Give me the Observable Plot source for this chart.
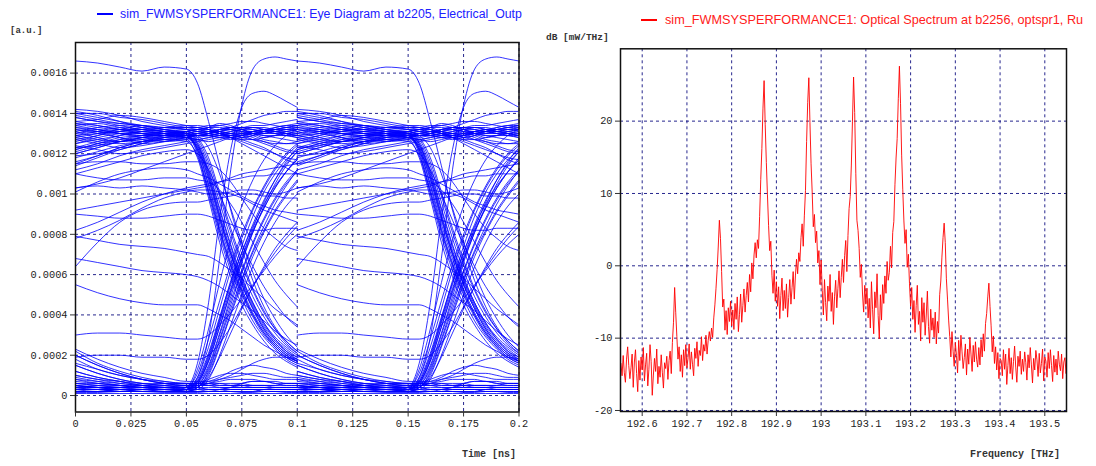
<!DOCTYPE html>
<html>
<head>
<meta charset="utf-8">
<script src="https://cdn.jsdelivr.net/npm/d3@7"></script>
<script src="https://cdn.jsdelivr.net/npm/@observablehq/plot@0.6"></script>
<style>
  html, body { margin: 0; padding: 0; background: #fff; }
  #wrap { position: relative; width: 1096px; height: 466px; overflow: hidden; background: #fff; }
  .ttl { position: absolute; font-family: "Liberation Sans", Arial, sans-serif; line-height: 14px; white-space: nowrap; }
  .unit { position: absolute; font-family: "Liberation Mono", "Courier New", monospace; font-weight: bold; color: #333; white-space: nowrap; }
  .sw { position: absolute; height: 2px; width: 16px; }
</style>
</head>
<body>
<div id="wrap"></div>
<script>
// ---------------- Eye diagram data (values in units of 1e-4 a.u.) ----------------
const eyeTitle = "sim_FWMSYSPERFORMANCE1: Eye Diagram at b2205, Electrical_Outp";
const eyeYLabel = "[a.u.]";
const eyeXLabel = "Time [ns]";
const eyeUnit = 1e-4;
const eyeT = [0, 0.01, 0.02, 0.03, 0.04, 0.05, 0.055, 0.06, 0.065, 0.07, 0.075, 0.08, 0.085, 0.09, 0.095, 0.1];
const eyeXTicks = [0, 0.025, 0.05, 0.075, 0.1, 0.125, 0.15, 0.175, 0.2];
const eyeYTicks = [0, 0.0002, 0.0004, 0.0006, 0.0008, 0.001, 0.0012, 0.0014, 0.0016];
const eyeWindows = [0, 0.1];

// "1" -> "1"
const eyeHigh = [
  [13.0,13.2,13.1,13.3,13.2,13.1,13.0,13.0,13.1,13.2,13.1,13.0,13.0,13.1,13.2,13.1],
  [12.6,12.9,13.2,13.0,12.9,13.0,13.1,13.0,12.9,13.0,13.2,13.3,13.2,13.1,13.0,12.9],
  [13.8,13.6,13.5,13.4,13.2,13.0,12.9,12.9,13.0,13.1,13.2,13.2,13.1,13.2,13.3,13.4],
  [12.2,12.5,12.8,12.9,13.1,13.2,13.2,13.1,13.0,12.9,12.8,12.9,13.1,13.2,13.3,13.3],
  [13.4,13.5,13.3,13.1,13.0,12.8,12.7,12.8,12.9,13.0,12.9,12.7,12.5,12.3,12.1,12.0],
  [12.0,12.3,12.6,12.7,12.6,12.7,12.8,12.9,13.0,13.0,13.1,13.1,13.0,13.0,12.9,12.8],
  [14.0,14.0,13.8,13.7,13.5,13.3,13.2,13.1,13.2,13.3,13.3,13.4,13.4,13.5,13.6,13.7],
  [11.6,11.9,12.3,12.6,12.8,12.9,12.9,13.0,13.2,13.3,13.3,13.2,13.1,13.0,13.0,13.0],
  [12.9,12.7,12.6,12.8,13.0,13.1,13.2,13.3,13.3,13.2,13.0,12.8,12.6,12.4,12.2,12.1],
  [13.2,13.0,12.8,12.5,12.6,12.8,12.9,12.9,12.8,12.7,12.8,12.9,13.0,13.1,13.0,12.9],
  [12.4,12.2,12.0,12.1,12.3,12.5,12.6,12.7,12.8,12.9,13.0,13.1,13.2,13.3,13.4,13.4],
  [13.6,13.7,13.9,13.8,13.6,13.4,13.3,13.2,13.0,12.8,12.6,12.4,12.2,12.0,11.8,11.7],
  [11.2,11.5,11.9,12.2,12.4,12.6,12.7,12.8,12.9,12.9,13.0,13.0,12.9,12.8,12.7,12.6],
  [12.8,13.0,13.2,13.4,13.3,13.2,13.1,13.3,13.5,13.4,13.2,13.0,12.8,12.9,13.1,13.2],
  [14.2,14.1,13.9,13.6,13.4,13.2,13.1,13.0,12.9,12.8,12.9,13.0,13.1,13.0,12.9,12.9],
  [12.3,12.6,12.9,13.1,13.0,12.8,12.7,12.6,12.7,12.8,12.7,12.5,12.3,12.0,11.7,11.5],
  [11.8,12.1,12.4,12.6,12.9,13.1,13.2,13.3,13.4,13.5,13.6,13.6,13.5,13.4,13.3,13.2],
  [13.3,13.1,12.8,12.6,12.7,12.9,13.0,13.1,13.1,13.0,12.8,12.7,12.6,12.5,12.5,12.6],
  [10.3,10.5,10.8,11.2,11.6,12.0,12.2,12.4,12.6,12.8,12.9,13.0,13.1,13.1,13.2,13.2],
  [13.5,13.3,13.2,13.2,13.3,13.4,13.4,13.3,13.1,12.8,12.5,12.2,11.9,11.6,11.3,11.0],
  [12.7,12.5,12.3,12.4,12.6,12.8,12.9,13.0,13.1,13.3,13.5,13.7,13.9,14.0,14.1,14.1],
  [13.9,13.7,13.5,13.4,13.3,13.3,13.3,13.4,13.4,13.3,13.2,13.1,13.1,13.2,13.3,13.4],
  [12.9,13.1,13.3,13.2,13.0,12.9,12.9,13.0,13.2,13.3,13.2,13.0,12.9,12.9,13.0,13.1],
  [12.1,12.4,12.7,12.9,13.0,13.0,13.0,12.9,12.8,12.8,12.9,13.1,13.2,13.2,13.1,13.0],
  [13.5,13.4,13.2,13.0,12.9,12.9,13.0,13.1,13.2,13.2,13.1,12.9,12.7,12.6,12.5,12.5],
  [11.9,12.0,12.2,12.5,12.8,13.0,13.1,13.1,13.0,12.9,12.9,13.0,13.1,13.3,13.4,13.5],
  [13.1,12.8,12.6,12.7,12.9,13.1,13.2,13.2,13.1,13.0,13.0,13.1,13.2,13.1,13.0,12.9],
  [12.5,12.8,13.0,13.1,13.2,13.3,13.3,13.2,13.0,12.8,12.7,12.7,12.8,12.9,12.9,12.8],
  [14.1,13.9,13.6,13.3,13.1,13.0,12.9,12.9,13.0,13.1,13.2,13.3,13.3,13.2,13.2,13.3],
  [11.4,11.8,12.2,12.5,12.7,12.8,12.9,13.0,13.1,13.2,13.3,13.3,13.2,13.1,13.1,13.2]
];
// "1" -> "0"
const eyeFall = [
  [13.0,13.1,13.0,12.9,12.9,12.8,12.2,10.5,8.5,6.8,5.3,4.1,3.2,2.5,2.0,1.7],
  [12.5,12.7,12.9,13.0,13.0,12.9,12.5,11.2,9.3,7.5,5.9,4.6,3.6,2.8,2.2,1.8],
  [13.6,13.4,13.2,13.1,13.0,12.9,12.0,10.0,7.9,6.2,4.8,3.7,2.9,2.3,1.8,1.5],
  [12.0,12.3,12.6,12.8,12.9,13.0,12.6,11.4,9.6,7.8,6.2,4.9,3.9,3.1,2.5,2.1],
  [13.3,13.2,13.0,12.8,12.7,12.6,11.9,10.1,8.1,6.4,5.0,3.9,3.0,2.4,1.9,1.6],
  [11.5,11.9,12.3,12.6,12.8,12.9,12.4,10.9,8.9,7.1,5.6,4.4,3.4,2.7,2.2,1.9],
  [13.8,13.6,13.4,13.2,13.1,13.0,12.7,11.6,9.9,8.1,6.5,5.2,4.1,3.3,2.7,2.2],
  [12.8,12.6,12.5,12.6,12.7,12.7,11.8,9.8,7.6,5.9,4.5,3.5,2.7,2.1,1.7,1.4],
  [13.1,13.3,13.4,13.3,13.1,12.9,12.3,10.7,8.7,7.0,5.5,4.3,3.3,2.6,2.1,1.8],
  [12.3,12.4,12.6,12.8,13.0,13.1,12.8,11.8,10.1,8.3,6.7,5.3,4.2,3.3,2.6,2.1],
  [14.0,13.8,13.6,13.4,13.2,13.0,12.1,10.2,8.2,6.5,5.1,4.0,3.1,2.5,2.0,1.7],
  [12.9,13.0,13.1,13.0,12.9,12.8,12.3,10.8,8.8,7.0,5.5,4.3,3.3,2.6,2.1,1.7],
  [11.0,11.3,11.6,11.9,12.1,12.2,12.0,11.2,10.0,8.7,7.5,6.4,5.4,4.6,3.9,3.4],
  [16.6,16.5,16.3,16.1,16.3,16.2,15.5,13.6,11.4,9.2,7.3,5.7,4.4,3.4,2.7,2.2],
  [13.2,13.1,13.0,13.0,13.1,13.1,12.9,12.3,11.0,9.3,7.6,6.1,4.8,3.8,3.0,2.4],
  [12.7,12.9,13.1,13.2,13.1,13.0,12.5,11.0,9.0,7.2,5.7,4.5,3.5,2.8,2.3,1.9],
  [13.4,13.2,13.0,12.9,12.9,12.9,12.2,10.4,8.3,6.6,5.2,4.0,3.1,2.4,1.9,1.6],
  [12.2,12.5,12.7,12.8,12.8,12.8,12.4,11.1,9.2,7.4,5.8,4.6,3.6,2.9,2.4,2.0]
];
// "0" -> "1"
const eyeRise = [
  [0.5,0.4,0.3,0.3,0.2,0.3,0.5,1.4,3.0,4.7,6.2,7.6,8.8,9.8,10.6,11.2],
  [0.8,0.6,0.5,0.4,0.3,0.3,0.8,2.1,3.9,5.6,7.1,8.4,9.5,10.4,11.1,11.7],
  [0.3,0.3,0.2,0.2,0.2,0.2,0.4,1.0,2.4,4.0,5.5,6.9,8.1,9.1,9.9,10.6],
  [1.2,0.9,0.7,0.5,0.4,0.4,0.9,2.4,4.3,6.2,7.8,9.2,10.3,11.2,11.9,12.4],
  [0.4,0.3,0.3,0.2,0.2,0.2,0.3,0.8,2.0,3.5,5.0,6.4,7.6,8.6,9.4,10.0],
  [0.6,0.5,0.4,0.3,0.3,0.4,1.1,2.8,4.7,6.5,8.0,9.3,10.4,11.3,12.0,12.5],
  [2.0,1.5,1.1,0.8,0.6,0.5,0.7,1.7,3.4,5.2,6.8,8.2,9.3,10.3,11.1,11.7],
  [0.3,0.3,0.3,0.2,0.2,0.2,0.6,1.8,3.6,5.3,6.9,8.3,9.6,10.7,11.6,12.3],
  [0.7,0.6,0.5,0.4,0.4,0.3,0.4,1.2,2.7,4.3,5.8,7.2,8.4,9.5,10.4,11.2],
  [0.2,0.2,0.2,0.2,0.2,0.3,1.3,3.3,5.6,7.7,9.4,10.7,11.7,12.4,12.9,13.2],
  [1.5,1.1,0.8,0.6,0.5,0.4,0.6,1.5,3.1,4.9,6.6,8.1,9.4,10.5,11.4,12.1],
  [0.4,0.4,0.3,0.3,0.2,0.2,0.4,1.1,2.5,4.1,5.7,7.1,8.2,9.2,10.0,10.7],
  [0.3,0.3,0.2,0.2,0.2,0.4,1.6,4.6,8.8,12.2,14.3,15.0,15.1,14.9,14.6,14.3],
  [0.5,0.4,0.3,0.3,0.3,0.3,0.9,2.9,6.8,11.2,14.4,16.2,16.7,16.8,16.7,16.6],
  [0.3,0.2,0.2,0.2,0.2,0.2,0.4,0.9,1.9,3.1,4.3,5.4,6.4,7.3,8.0,8.6],
  [0.9,0.7,0.5,0.4,0.3,0.3,0.7,2.0,3.8,5.7,7.4,8.9,10.1,11.0,11.7,12.2],
  [0.3,0.3,0.3,0.2,0.2,0.3,0.7,1.9,3.7,5.5,7.1,8.5,9.7,10.7,11.5,12.1],
  [0.5,0.4,0.3,0.3,0.3,0.3,0.5,1.3,2.8,4.5,6.1,7.5,8.7,9.7,10.5,11.1],
  [1.0,0.8,0.6,0.5,0.4,0.3,0.6,1.7,3.4,5.1,6.7,8.1,9.3,10.3,11.1,11.8]
];
// "0" -> "0"
const eyeLow = [
  [2.2,1.6,1.2,0.9,0.7,0.6,0.6,0.5,0.5,0.5,0.5,0.4,0.4,0.4,0.4,0.4],
  [1.8,1.3,1.0,0.8,0.6,0.5,0.5,0.5,0.4,0.4,0.5,0.5,0.5,0.4,0.4,0.4],
  [0.5,0.4,0.4,0.3,0.3,0.3,0.3,0.3,0.3,0.3,0.3,0.3,0.3,0.3,0.3,0.3],
  [1.5,1.1,0.8,0.6,0.5,0.4,0.4,0.4,0.4,0.4,0.4,0.4,0.4,0.4,0.4,0.4],
  [0.3,0.3,0.2,0.2,0.2,0.2,0.2,0.2,0.2,0.2,0.2,0.2,0.2,0.2,0.2,0.2],
  [2.0,1.5,1.1,0.8,0.6,0.5,0.5,0.6,0.7,0.8,0.8,0.8,0.7,0.7,0.6,0.6],
  [0.8,0.7,0.6,0.5,0.5,0.5,0.6,0.8,1.0,1.1,1.1,1.0,0.9,0.8,0.8,0.8],
  [1.2,0.9,0.7,0.5,0.4,0.4,0.4,0.3,0.3,0.3,0.3,0.3,0.3,0.3,0.3,0.3],
  [0.1,0.1,0.1,0.1,0.1,0.1,0.1,0.1,0.1,0.1,0.1,0.1,0.1,0.1,0.1,0.1],
  [2.3,1.8,1.4,1.1,0.9,0.7,0.7,0.7,0.8,0.9,1.0,1.1,1.1,1.0,0.9,0.9],
  [0.6,0.5,0.4,0.4,0.3,0.3,0.3,0.2,0.2,0.2,0.2,0.2,0.3,0.3,0.3,0.3],
  [1.6,1.3,1.0,0.8,0.7,0.6,0.6,0.6,0.6,0.5,0.5,0.5,0.5,0.5,0.5,0.5],
  [0.4,0.4,0.4,0.4,0.4,0.4,0.5,0.6,0.8,1.0,1.3,1.6,1.8,1.9,1.9,1.8],
  [0.2,0.2,0.2,0.2,0.2,0.2,0.2,0.2,0.3,0.4,0.6,0.7,0.7,0.6,0.5,0.5],
  [0.2,0.2,0.3,0.3,0.3,0.2,0.2,0.2,0.2,0.3,0.3,0.3,0.2,0.2,0.2,0.2],
  [0.4,0.5,0.5,0.4,0.4,0.5,0.5,0.5,0.6,0.6,0.6,0.5,0.5,0.5,0.6,0.6],
  [0.6,0.6,0.5,0.5,0.6,0.6,0.6,0.6,0.5,0.5,0.6,0.7,0.7,0.6,0.6,0.6],
  [1.0,0.8,0.7,0.6,0.6,0.6,0.6,0.7,0.9,1.2,1.4,1.5,1.4,1.3,1.1,1.0],
  [0.3,0.4,0.4,0.5,0.4,0.4,0.4,0.3,0.3,0.4,0.4,0.4,0.4,0.3,0.3,0.3],
  [0.15,0.15,0.2,0.2,0.15,0.15,0.15,0.2,0.2,0.2,0.15,0.15,0.2,0.2,0.15,0.15]
];
// intermediate levels
const eyeMid = [
  [10.3,10.4,10.3,10.4,10.3,10.2,10.1,10.0,10.0,10.1,10.2,10.2,10.1,10.0,10.1,10.3],
  [10.1,10.6,11.0,11.2,11.3,11.2,11.0,10.8,10.5,10.2,9.9,9.6,9.4,9.2,9.1,9.0],
  [9.2,9.4,9.6,9.8,10.0,10.2,10.3,10.4,10.6,10.8,11.0,11.1,11.2,11.3,11.4,11.5],
  [9.0,8.9,8.8,8.8,8.9,9.0,9.0,8.9,8.7,8.5,8.3,8.2,8.2,8.3,8.3,8.3],
  [8.2,8.6,9.1,9.6,10.0,10.3,10.4,10.5,10.6,10.7,10.8,10.9,10.9,11.0,11.0,11.0],
  [7.9,7.7,7.5,7.4,7.3,7.1,7.0,6.9,6.6,6.2,5.8,5.3,4.8,4.3,3.9,3.5],
  [7.8,8.2,8.7,9.3,9.8,10.1,10.2,10.2,10.1,10.0,9.8,9.5,9.2,9.0,8.8,8.6],
  [6.8,6.6,6.4,6.2,6.1,6.0,5.9,5.7,5.4,5.0,4.6,4.2,3.7,3.2,2.8,2.5],
  [6.4,7.6,8.6,9.2,9.5,9.6,9.6,9.7,9.8,9.9,10.0,10.0,9.9,9.9,9.8,9.8],
  [5.5,5.1,4.8,4.6,4.5,4.5,4.5,4.3,4.0,3.7,3.3,2.9,2.5,2.2,1.9,1.7],
  [11.5,11.6,11.6,11.5,11.5,11.6,11.6,11.5,11.2,10.6,9.8,9.0,8.3,7.8,7.4,7.2],
  [11.0,10.8,10.7,10.7,10.8,10.8,10.7,10.6,10.2,9.5,8.6,7.6,6.6,5.7,5.0,4.4],
  [3.0,3.1,3.1,3.0,2.9,2.8,2.8,3.0,3.5,4.1,4.8,5.5,6.2,6.9,7.5,8.0],
  [1.9,2.0,2.0,1.9,1.9,1.8,1.8,2.0,2.6,3.4,4.4,5.4,6.3,7.1,7.8,8.4]
];

// ---------------- Optical spectrum data ----------------
const specTitle = "sim_FWMSYSPERFORMANCE1: Optical Spectrum at b2256, optspr1, Ru";
const specYLabel = "dB [mW/THz]";
const specXLabel = "Frequency [THz]";
const specStart = 192.5525;   // THz, first sample
const specStep = 0.0025;      // THz, sample spacing
const specXTicks = [192.6, 192.7, 192.8, 192.9, 193, 193.1, 193.2, 193.3, 193.4, 193.5];
const specYTicks = [-20, -10, 0, 10, 20];
const specDb = [
  -13.5,-15.2,-12.4,-14.8,-16.1,-12.9,-11.2,-13.8,-15.6,-14.1,-12.2,-16.8,-13.3,-11.6,-14.9,-17.4,-13.1,-15.8,-12.6,-14.4,
  -11.3,-15.9,-13.7,-12.1,-16.6,-14.3,-10.9,-13.2,-17.9,-15.1,-12.8,-14.6,-11.5,-16.3,-13.9,-15.4,-12.3,-14.7,-16.9,-13.4,
  -14.2,-12.5,-15.7,-13.1,-11.8,-14.9,-10.6,-7.8,-3.0,-6.5,-9.8,-12.9,-11.2,-14.6,-12.3,-15.4,-11.6,-13.8,-10.9,-14.1,
  -12.7,-10.8,-14.3,-11.9,-13.6,-15.2,-11.4,-12.8,-10.5,-13.9,-11.7,-12.4,-9.8,-13.1,-10.9,-11.8,-9.6,-12.2,-10.3,-9.1,
  -10.4,-8.6,-9.9,-7.2,-5.4,-3.1,-0.5,2.6,6.3,3.8,-0.8,-5.7,-4.6,-8.9,-6.2,-9.5,-5.8,-7.7,-4.9,-8.3,
  -6.1,-8.8,-5.2,-7.4,-4.3,-9.1,-6.7,-3.9,-7.8,-5.5,-3.2,-6.4,-4.1,-2.3,-5.0,-1.2,-3.6,0.4,-1.8,1.5,
  3.2,1.1,3.6,2.4,6.8,11.9,16.2,21.8,25.6,19.5,14.3,9.8,5.6,2.1,3.4,-1.3,-3.8,-0.6,-4.9,-2.2,
  -5.6,-2.9,-7.3,-4.1,-1.7,-6.2,-3.4,-5.9,-2.5,-7.1,-4.4,-1.9,-5.3,-3.0,-0.8,-4.6,-1.4,0.9,-1.1,1.8,
  0.6,3.9,5.8,2.7,6.9,10.4,17.2,22.6,26.0,19.8,14.1,10.2,5.4,7.1,3.2,4.8,0.4,2.1,-2.6,0.8,
  -3.4,-6.8,-1.9,-5.1,-7.6,-2.8,-4.9,-1.2,-6.3,-3.7,-8.1,-4.2,-2.0,-5.8,-3.1,-0.7,-4.4,-1.6,0.9,-2.3,
  1.4,3.5,-0.8,4.2,7.9,9.6,13.8,19.9,26.1,21.2,12.8,6.3,4.9,2.4,-1.6,0.2,-3.9,-6.4,-2.7,-5.3,
  -3.1,-7.2,-4.5,-8.6,-2.2,-6.0,-9.4,-3.6,-5.8,-1.1,-6.9,-10.1,-4.0,-7.5,-2.6,-5.2,-1.4,-3.8,0.6,-2.0,
  -0.9,2.7,-0.3,4.6,6.1,11.2,14.9,17.6,23.1,27.6,22.4,15.3,10.5,6.2,3.1,5.0,-0.2,1.6,-2.4,-5.6,
  -3.0,-7.4,-4.8,-9.2,-5.5,-2.7,-8.1,-6.3,-10.4,-4.4,-7.8,-5.1,-9.6,-6.8,-3.5,-8.4,-10.7,-6.0,-8.9,-7.2,
  -9.9,-6.4,-10.8,-7.7,-9.3,-4.0,-2.1,1.2,3.9,5.9,3.2,-1.8,-4.6,-7.5,-9.8,-12.6,-9.1,-11.8,-13.9,-10.6,
  -12.4,-14.8,-10.3,-13.1,-9.6,-11.9,-14.2,-12.7,-10.8,-15.1,-11.5,-13.6,-9.9,-12.2,-14.6,-11.0,-13.3,-10.5,-12.9,-14.0,
  -11.3,-13.7,-10.2,-12.6,-9.4,-11.8,-8.0,-6.6,-4.3,-2.4,-5.6,-8.3,-11.9,-9.7,-13.5,-11.2,-14.4,-12.0,-15.6,-12.8,
  -13.1,-15.2,-11.6,-14.3,-12.2,-16.4,-13.8,-11.4,-14.9,-12.7,-15.7,-13.2,-11.1,-14.0,-16.1,-12.5,-13.9,-11.8,-15.0,-12.9,
  -14.6,-11.9,-13.4,-15.8,-12.3,-14.1,-11.3,-13.7,-16.2,-12.8,-14.4,-11.7,-13.0,-15.3,-12.1,-14.8,-13.5,-11.5,-15.9,-12.6,
  -13.2,-15.4,-12.0,-14.2,-11.6,-13.8,-16.0,-12.4,-14.7,-12.9,-15.1,-11.8,-13.6,-14.5,-12.2,-15.6,-13.3,-12.7,-14.9,-13.4
];

// ---------------- Build tables ----------------
const eyeRows = [];
let traceId = 0;
for (const group of [eyeHigh, eyeFall, eyeRise, eyeLow, eyeMid]) {
  for (const trace of group) {
    for (const w of eyeWindows) {
      trace.forEach((v, i) => eyeRows.push({t: eyeT[i] + w, v: v * eyeUnit, id: traceId + "_" + w}));
    }
    traceId++;
  }
}
const specRows = specDb.map((db, i) => ({f: specStart + i * specStep, db}));

const gridStyle = {stroke: "#00007a", strokeOpacity: 0.85, strokeWidth: 1, strokeDasharray: "3,3"};
const axisFont = {fontSize: 10.3, fill: "#222"};
const plotStyle = {fontFamily: "'Liberation Mono', 'Courier New', monospace", fontSize: "10.3px", color: "#222", background: "transparent", overflow: "visible"};

const eyePlot = Plot.plot({
  width: 540, height: 466,
  marginLeft: 75, marginRight: 21.5, marginTop: 42, marginBottom: 54.5,
  style: plotStyle,
  x: {domain: [0, 0.2]},
  y: {domain: [-0.0000818, 0.0017519]},
  marks: [
    Plot.gridX(eyeXTicks, gridStyle),
    Plot.gridY(eyeYTicks, gridStyle),
    Plot.line(eyeRows, {x: "t", y: "v", z: "id", stroke: "#0000ff", strokeWidth: 1, strokeOpacity: 0.8, curve: "monotone-x", clip: true}),
    Plot.frame({stroke: "#111", strokeWidth: 1.5}),
    Plot.axisX(eyeXTicks, {tickFormat: d => String(d), tickSize: 5, tickPadding: 3, label: null, stroke: "#333", ...axisFont}),
    Plot.axisY(eyeYTicks, {tickFormat: d => String(d), tickSize: 5, tickPadding: 3, label: null, stroke: "#333", ...axisFont})
  ]
});

const specPlot = Plot.plot({
  width: 556, height: 466,
  marginLeft: 80, marginRight: 30, marginTop: 48.3, marginBottom: 55,
  style: plotStyle,
  x: {domain: [192.5515, 193.5485]},
  y: {domain: [-20.14, 30.0]},
  marks: [
    Plot.gridX(specXTicks, gridStyle),
    Plot.gridY(specYTicks, gridStyle),
    Plot.line(specRows, {x: "f", y: "db", stroke: "#ff0000", strokeWidth: 1, strokeOpacity: 0.9, clip: true}),
    Plot.frame({stroke: "#111", strokeWidth: 1.5}),
    Plot.axisX(specXTicks, {tickFormat: d => String(d), tickSize: 5, tickPadding: 3, label: null, stroke: "#333", ...axisFont}),
    Plot.axisY(specYTicks, {tickFormat: d => String(d), tickSize: 5, tickPadding: 3, label: null, stroke: "#333", ...axisFont})
  ]
});

const wrap = document.getElementById("wrap");
function place(el, left, top) {
  el.style.position = "absolute";
  el.style.left = left + "px";
  el.style.top = top + "px";
  wrap.appendChild(el);
}
place(eyePlot, 0, 0);
place(specPlot, 540, 0);

function addDiv(cls, text, css) {
  const d = document.createElement("div");
  d.className = cls;
  if (text) d.textContent = text;
  Object.assign(d.style, css);
  wrap.appendChild(d);
}
// legends / titles
addDiv("sw", "", {left: "97px", top: "13px", background: "#0000ff"});
addDiv("ttl", eyeTitle, {left: "120px", top: "7px", fontSize: "12.3px", color: "#2020ff"});
addDiv("sw", "", {left: "641px", top: "19px", background: "#ff0000"});
addDiv("ttl", specTitle, {left: "665px", top: "13px", fontSize: "12.7px", color: "#ff2020"});
// axis unit labels
addDiv("unit", eyeYLabel, {left: "10px", top: "26px", fontSize: "9px"});
addDiv("unit", specYLabel, {left: "546px", top: "32px", fontSize: "9.5px"});
addDiv("unit", eyeXLabel, {left: "462px", top: "449px", fontSize: "10px"});
addDiv("unit", specXLabel, {left: "970px", top: "449px", fontSize: "10px"});
</script>
</body>
</html>
